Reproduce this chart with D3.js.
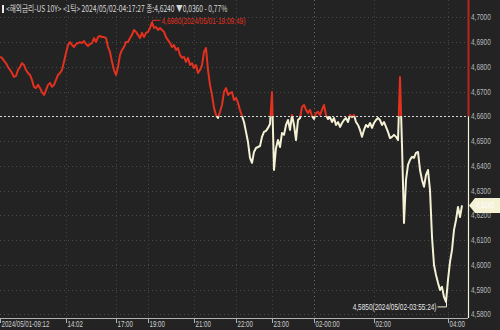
<!DOCTYPE html>
<html><head><meta charset="utf-8">
<script src="https://cdn.jsdelivr.net/npm/d3@7"></script>
<style>body{margin:0;background:#232323;overflow:hidden} svg{display:block}</style>
</head><body><svg id="c" width="500" height="330"></svg>
<script>
// ---- data (US 10Y tick chart, 2024/05/01 09:12 -> 2024/05/02 04:17) ----
const values = [
4.6840,4.6836,4.6824,4.6815,4.6799,4.6787,4.6775,4.6759,4.6763,4.6787,
4.6799,4.6815,4.6807,4.6787,4.6775,4.6767,4.6747,4.6719,4.6714,4.6727,
4.6714,4.6698,4.6686,4.6706,4.6727,4.6735,4.6719,4.6727,4.6747,4.6767,
4.6775,4.6787,4.6820,4.6856,4.6888,4.6900,4.6888,4.6880,4.6892,4.6896,
4.6900,4.6896,4.6904,4.6892,4.6884,4.6892,4.6896,4.6916,4.6900,4.6920,
4.6925,4.6920,4.6920,4.6916,4.6880,4.6860,4.6820,4.6787,4.6767,4.6799,
4.6848,4.6868,4.6880,4.6900,4.6900,4.6916,4.6929,4.6949,4.6941,4.6929,
4.6916,4.6937,4.6920,4.6937,4.6941,4.6957,4.6980,4.6957,4.6961,4.6949,
4.6957,4.6949,4.6941,4.6920,4.6908,4.6896,4.6880,4.6888,4.6868,4.6876,
4.6848,4.6836,4.6840,4.6820,4.6836,4.6807,4.6815,4.6795,4.6807,4.6775,
4.6787,4.6807,4.6860,4.6876,4.6787,4.6727,4.6686,4.6634,4.6605,4.6593,
4.6618,4.6646,4.6698,4.6714,4.6686,4.6694,4.6698,4.6666,4.6674,4.6654,
4.6626,4.6601,4.6577,4.6537,4.6496,4.6432,4.6412,4.6456,4.6472,4.6476,
4.6480,4.6517,4.6537,4.6541,4.6553,4.6569,4.6698,4.6383,4.6472,4.6504,
4.6476,4.6533,4.6525,4.6565,4.6585,4.6545,4.6605,4.6565,4.6504,4.6585,
4.6593,4.6638,4.6646,4.6626,4.6613,4.6626,4.6601,4.6589,4.6613,4.6618,
4.6605,4.6626,4.6646,4.6605,4.6589,4.6597,4.6577,4.6593,4.6565,4.6577,
4.6557,4.6573,4.6585,4.6593,4.6577,4.6605,4.6597,4.6605,4.6577,4.6565,
4.6545,4.6517,4.6545,4.6565,4.6557,4.6573,4.6553,4.6573,4.6585,4.6593,
4.6585,4.6565,4.6577,4.6557,4.6537,4.6512,4.6517,4.6525,4.6517,4.6504,
4.6759,4.6484,4.6169,4.6343,4.6404,4.6424,4.6436,4.6432,4.6452,4.6456,
4.6383,4.6343,4.6315,4.6363,4.6383,4.6302,4.6113,4.5999,4.5959,4.5927,
4.5898,4.5911,4.5870,4.5850,4.5939,4.6012,4.6060,4.6141,4.6181,4.6234,
4.6193,4.6240
];
const tickIndex  = [0, 33, 58, 74, 97, 118, 136, 157, 187, 224];
const tickLabels = ["2024/05/01-09:12","14:02","17:00","19:00","21:00","22:00","23:00","02-00:00","02:00","04:00"];
const yTicks = [4.70,4.69,4.68,4.67,4.66,4.65,4.64,4.63,4.62,4.61,4.60,4.59,4.58];
const prevClose = 4.66;
const headerText = "<해외금리-US 10Y> <1틱> 2024/05/02-04:17:27 종:4,6240 \u25BC0,0360 - 0,77%";
const highLabel = "4,6980(2024/05/01-19:09:49)";
const lowLabel  = "4,5850(2024/05/02-03:55:24)";
const lastLabel = "4,6240";

// ---- drawing ----
const W = 500, H = 330;
const RED = "#e2311f", CREAM = "#f4f1d4", BG = "#232323";
const svg = d3.select("#c");
svg.append("rect").attr("width", W).attr("height", H).attr("fill", BG);

const plotR = 468, plotB = 318;
const x = d3.scaleLinear().domain([0, values.length - 1]).range([0, 462]);
const y = d3.scaleLinear().domain([4.58, 4.70]).range([314.3, 17.3]);
const fmt = v => d3.format(".4f")(v).replace(".", ",");
const FONT = "'Liberation Sans', Arial, sans-serif";

// horizontally condense a text around its anchor x (real geometry, not textLength)
function squeeze(sel, k) {
  sel.each(function () {
    const el = d3.select(this);
    const ax = +el.attr("x");
    const tr = el.attr("transform") || "";
    el.attr("transform", `${tr} translate(${ax},0) scale(${k},1) translate(${-ax},0)`);
  });
}

// horizontal grid
svg.append("g").selectAll("line").data(yTicks.filter(v => v !== prevClose)).join("line")
  .attr("x1", 0).attr("x2", plotR).attr("y1", d => Math.round(y(d)) + 0.5).attr("y2", d => Math.round(y(d)) + 0.5)
  .attr("stroke", "#4c4c4c").attr("stroke-dasharray", "1,3");
// vertical grid
svg.append("g").selectAll("line").data(tickIndex.slice(1)).join("line")
  .attr("x1", d => Math.round(x(d)) + 0.5).attr("x2", d => Math.round(x(d)) + 0.5)
  .attr("y1", 0).attr("y2", plotB)
  .attr("stroke", (d, i) => tickLabels[i + 1].startsWith("02-") ? "#6a6a6a" : "#444")
  .attr("stroke-dasharray", "1,3");
// previous close line
svg.append("line").attr("x1", 0).attr("x2", plotR)
  .attr("y1", Math.round(y(prevClose)) + 0.5).attr("y2", Math.round(y(prevClose)) + 0.5)
  .attr("stroke", "#d8d8d8").attr("stroke-dasharray", "2,2");

// clips
const yc = y(prevClose);
const defs = svg.append("defs");
defs.append("clipPath").attr("id", "above").append("rect").attr("x", 0).attr("y", 0).attr("width", W).attr("height", yc);
defs.append("clipPath").attr("id", "below").append("rect").attr("x", 0).attr("y", yc).attr("width", W).attr("height", H - yc);

const line = d3.line().x((d, i) => x(i)).y(d => y(d));
svg.append("path").datum(values).attr("d", line).attr("fill", "none")
  .attr("stroke", RED).attr("stroke-width", 2).attr("stroke-linejoin", "round").attr("clip-path", "url(#above)");
svg.append("path").datum(values).attr("d", line).attr("fill", "none")
  .attr("stroke", CREAM).attr("stroke-width", 2).attr("stroke-linejoin", "round").attr("clip-path", "url(#below)");

// right axis line (red above prev close, cream below)
svg.append("line").attr("x1", plotR + 0.5).attr("x2", plotR + 0.5).attr("y1", 0).attr("y2", yc)
  .attr("stroke", "#b8261c").attr("stroke-width", 2);
svg.append("line").attr("x1", plotR + 0.5).attr("x2", plotR + 0.5).attr("y1", yc).attr("y2", plotB)
  .attr("stroke", CREAM).attr("stroke-width", 1.2);
// right axis labels
const yl = svg.append("g").selectAll("text").data(yTicks).join("text")
  .attr("x", 471).attr("y", d => y(d) + 3.2)
  .attr("fill", "#b8b8b8").attr("font-family", FONT).attr("font-size", 9)
  .text(d => fmt(d));
squeeze(yl, 0.72);

// bottom axis
svg.append("line").attr("x1", 0).attr("x2", plotR).attr("y1", plotB + 0.5).attr("y2", plotB + 0.5)
  .attr("stroke", "#b0b0b0");
const bt = svg.append("g").selectAll("g").data(tickIndex).join("g")
  .attr("transform", d => `translate(${Math.round(x(d)) + 0.5},0)`);
bt.append("line").attr("y1", plotB).attr("y2", plotB + 5).attr("stroke", "#b0b0b0");
const btx = bt.append("text").attr("x", 1).attr("y", 327.5)
  .attr("fill", "#cfcfcf").attr("font-family", FONT).attr("font-size", 9)
  .text((d, i) => tickLabels[i]);
squeeze(btx, 0.68);

// header
svg.append("rect").attr("x", 2).attr("y", 5).attr("width", 2).attr("height", 8).attr("fill", "#e8e8e8");
const ht = svg.append("text").attr("x", 6).attr("y", 12.5)
  .attr("fill", "#d6d6d6").attr("font-family", "'Noto Sans CJK KR', " + FONT).attr("font-size", 9)
  .text(headerText);
{
  const w = ht.node().getComputedTextLength();
  ht.attr("transform", `translate(6,0) scale(${222 / w},1) translate(-6,0)`);
}

// high annotation
const hi = d3.maxIndex(values), lo = d3.minIndex(values);
const hx = Math.round(x(hi)) + 0.5, hy = y(values[hi]);
svg.append("path").attr("d", `M${hx},${hy} V${hy - 2} H${hx + 8}`).attr("fill", "none").attr("stroke", RED);
const htx = svg.append("text").attr("x", hx + 9).attr("y", hy + 1.5)
  .attr("fill", RED).attr("font-family", FONT).attr("font-size", 9).text(highLabel);
squeeze(htx, 0.72);

// low annotation
const lx = Math.round(x(lo)) + 0.5, ly = y(values[lo]);
svg.append("path").attr("d", `M${lx},${ly} V${ly + 5} H${lx - 9}`).attr("fill", "none").attr("stroke", CREAM);
const ltx = svg.append("text").attr("x", lx - 10).attr("y", ly + 8)
  .attr("text-anchor", "end")
  .attr("fill", "#e8e8e8").attr("font-family", FONT).attr("font-size", 9).text(lowLabel);
squeeze(ltx, 0.72);

// current value box
const last = values[values.length - 1];
const by = y(last);
svg.append("path")
  .attr("d", `M469,${by} L475,${by - 7.5} H500 V${by + 7.5} H475 Z`)
  .attr("fill", CREAM);
const lbt = svg.append("text").attr("x", 476).attr("y", by + 3)
  .attr("fill", "#ffffff").attr("font-family", FONT).attr("font-size", 8.5).text(lastLabel);
squeeze(lbt, 0.7);
</script></body></html>
